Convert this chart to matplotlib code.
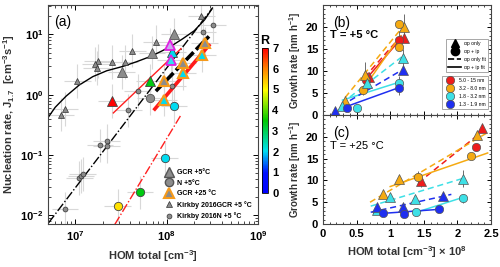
import numpy as np
import matplotlib.pyplot as plt
from matplotlib.colors import LinearSegmentedColormap
from matplotlib.lines import Line2D
import matplotlib.ticker as mticker

plt.rcParams['font.family'] = ['Liberation Sans', 'DejaVu Sans']
plt.rcParams['font.weight'] = 'bold'
plt.rcParams['axes.labelweight'] = 'bold'
plt.rcParams['mathtext.default'] = 'regular'

# ---------------- panel (a) data ----------------
# GCR +5 C, large grey triangles
gcr5_x = [1.2e8, 6.9e7, 3.2e7]
gcr5_y = [10.0, 5.0, 2.4]
# GCR +5 C, coloured by R
gcr5c_x = [2.5e7, 6.5e7, 1.15e8]
gcr5c_y = [0.78, 1.7, 5.1]
gcr5c_R = [7.0, 3.4, 2.0]
# magenta edged triangles
mag_x = [1.08e8, 1.1e8]
mag_y = [6.8, 3.8]
# N +5 C circles
n5_x = [6.6e7]
n5_y = [0.88]
n5c_x = [1.2e8, 9.5e7, 5.1e7, 2.9e7]
n5c_y = [0.65, 0.088, 0.024, 0.0145]
n5c_R = [2.0, 2.0, 3.4, 5.2]
# GCR +25 C (orange edge), fill grey or coloured by R
gcr25_x = [2.6e8, 2.45e8, 1.5e8, 1.5e8, 9.3e7, 9.3e7]
gcr25_y = [7.1, 4.6, 3.4, 2.3, 1.7, 0.83]
gcr25_R = [np.nan, 2.0, np.nan, 2.0, np.nan, 2.0]
# Kirkby 2016 GCR +5 C
kgcr_x = [2.4e8, 7.7e7, 4.2e7, 2.5e7, 3.5e7, 1.75e7, 1.65e7, 1.7e7, 1.05e7, 7.6e6, 6.9e6]
kgcr_y = [20.5, 7.6, 5.4, 3.5, 3.5, 3.6, 3.2, 2.8, 1.7, 0.58, 0.47]
# Kirkby 2016 N +5 C
kn_x = [3.2e8, 2.5e8, 1.15e8, 4.8e7, 3.8e7, 1.85e7, 2.2e7, 2.2e7, 1.1e7, 1.15e7, 1.2e7, 7.7e6]
kn_y = [14.5, 11.0, 1.4, 1.15, 0.55, 0.145, 0.17, 0.14, 0.042, 0.045, 0.048, 0.0128]

# fits
fit_curve_x = [4.9e6, 6.0e6, 7.9e6, 1.1e7, 1.55e7, 2.2e7, 3.3e7, 4.6e7, 6.6e7, 8.8e7, 1.1e8, 1.5e8, 2.0e8, 2.6e8, 3.1e8]
fit_curve_y = [0.40, 0.62, 0.95, 1.45, 2.0, 2.5, 2.95, 3.5, 4.3, 5.3, 6.3, 8.5, 11.5, 17.5, 26.0]
fit_dd_black = ([5.1e6, 3.2e8], [0.0076, 28.0])
fit_dd_red = ([2.7e7, 1.43e8], [0.0071, 0.46])
fit_thin_red = ([2.6e7, 1.43e8], [0.5, 5.8])
fit_thick_red = ([7.4e7, 2.9e8], [0.58, 6.6])
fit_thick_black = ([7.6e7, 2.9e8], [1.15, 9.3])

# ---------------- panels (b), (c) data ----------------
size_labels = ['5.0 - 15 nm', '3.2 - 8.0 nm', '1.8 - 3.2 nm', '1.3 - 1.9 nm']
size_colors = ['#ee1c1c', '#f5aa12', '#3ee0e6', '#1f2ff0']

# (x, y, err) per size class
b_tri = [[(0.69, 8.6, 0), (1.2, 17.5, 0)],
         [(0.33, 3.2, 0), (0.62, 9.0, 3.0), (1.2, 20.0, 3.0)],
         [(0.29, 2.0, 0), (0.66, 7.3, 1.5), (1.19, 13.0, 2.0)],
         [(0.18, 1.0, 0), (1.19, 10.2, 0)]]
b_cir = [[(0.64, 8.0, 1.0), (1.13, 17.1, 2.0)],
         [(0.6, 5.6, 1.0), (1.13, 20.7, 0), (1.13, 15.5, 0)],
         [(0.5, 1.7, 0), (1.13, 7.4, 1.5)],
         [(0.36, 1.6, 0), (1.13, 6.1, 1.5)]]
b_dash = [([0.62, 1.2], [8.6, 18.6]), ([0.33, 1.2], [4.0, 20.3]),
          ([0.4, 1.17], [4.1, 13.2]), ([0.4, 1.17], [3.3, 10.2])]
b_solid = [([0.62, 1.15], [7.8, 17.2]), ([0.6, 1.15], [6.0, 18.0]),
           ([0.29, 1.14], [3.4, 7.5]), ([0.36, 1.14], [2.0, 6.3])]

c_tri = [[(2.37, 22.0, 0), (1.46, 9.8, 1.2)],
         [(2.29, 20.4, 0), (1.13, 10.4, 0), (0.89, 6.8, 0)],
         [(0.99, 6.3, 0), (2.08, 10.4, 2.0), (1.37, 5.7, 0), (0.8, 3.2, 0)],
         [(1.79, 6.4, 1.0), (0.81, 3.9, 0), (1.19, 3.9, 0)]]
c_cir = [[(2.27, 17.7, 1.0)],
         [(2.2, 15.7, 0), (1.41, 10.7, 1.5)],
         [(2.08, 5.9, 1.0), (1.39, 2.7, 0)],
         [(0.9, 2.5, 0), (1.2, 2.3, 0), (1.72, 3.4, 0)]]
c_dash = [([1.42, 2.4], [9.5, 21.6]), ([0.7, 2.45], [5.0, 21.0]),
          ([0.71, 2.11], [4.1, 10.6]), ([0.71, 1.91], [2.7, 6.8])]
c_solid = [None, ([1.0, 2.45], [8.6, 16.3]),
           ([1.35, 2.1], [2.5, 6.2]), ([0.76, 1.76], [2.3, 3.4])]

cmap = LinearSegmentedColormap.from_list(
    'Rmap', [(0, '#0000ff'), (0.14, '#0010ff'), (0.29, '#00e0f0'),
             (0.5, '#00c800'), (0.71, '#ffff00'), (0.86, '#ff8000'), (1, '#ff0000')])
Rmin, Rmax = 0, 7


def Rcol(r):
    return cmap((r - Rmin) / (Rmax - Rmin))


fig = plt.figure(figsize=(5, 2.67), dpi=100)
ax = fig.add_axes([0.096, 0.161, 0.42, 0.821])

grey = '#8c8c8c'
ebc = '#d8d8d8'


def errs(x, y, fx=1.4, fy=1.9):
    x = np.array(x)
    y = np.array(y)
    return [x - x / fx, x * fx - x], [y - y / fy, y * fy - y]


for xs, ys in [(kgcr_x, kgcr_y), (kn_x, kn_y), (gcr5_x, gcr5_y), (n5_x, n5_y),
               (n5c_x, n5c_y), (gcr25_x, gcr25_y), (gcr5c_x, gcr5c_y), (mag_x, mag_y)]:
    xe, ye = errs(xs, ys)
    ax.errorbar(xs, ys, xerr=xe, yerr=ye, fmt='none', ecolor=ebc, elinewidth=0.8, zorder=1)

ax.plot(fit_curve_x, fit_curve_y, '-', color='k', lw=1.0, zorder=2)
ax.plot(*fit_dd_black, '-.', color='k', lw=1.0, zorder=2)
ax.plot(*fit_dd_red, '-.', color='#ff2020', lw=1.0, zorder=2)
ax.plot(*fit_thin_red, '-', color='#ff2020', lw=1.0, zorder=2)
ax.plot(*fit_thick_red, '-', color='#ff1a1a', lw=2.6, zorder=2)
ax.plot(*fit_thick_black, '--', color='k', lw=2.6, dashes=(3, 1), zorder=2)

ax.plot(kgcr_x, kgcr_y, '^', ms=3.8, mfc=grey, mec='#333333', mew=0.5, ls='none', zorder=3)
ax.plot(kn_x, kn_y, 'o', ms=3.5, mfc=grey, mec='#333333', mew=0.5, ls='none', zorder=3)
ax.plot(gcr5_x, gcr5_y, '^', ms=6.8, mfc=grey, mec='#555555', mew=0.6, ls='none', zorder=4)
ax.plot(n5_x, n5_y, 'o', ms=6, mfc=grey, mec='#555555', mew=0.6, ls='none', zorder=4)
for x, y, r in zip(n5c_x, n5c_y, n5c_R):
    ax.plot(x, y, 'o', ms=6, mfc=Rcol(r), mec='#444444', mew=0.6, zorder=4)
for x, y, r in zip(gcr5c_x, gcr5c_y, gcr5c_R):
    ax.plot(x, y, '^', ms=6.8, mfc=Rcol(r), mec='#444444', mew=0.6, zorder=4)
ax.plot(mag_x[0], mag_y[0], '^', ms=6.8, mfc='#c8a8f0', mec='#e020e0', mew=1.3, zorder=4)
ax.plot(mag_x[1], mag_y[1], '^', ms=6.8, mfc='#30e0f0', mec='#e020e0', mew=1.3, zorder=4)
for x, y, r in zip(gcr25_x, gcr25_y, gcr25_R):
    fc = grey if np.isnan(r) else Rcol(r)
    ax.plot(x, y, '^', ms=6.8, mfc=fc, mec='#f59a1b', mew=1.5, zorder=4)

ax.set_xscale('log')
ax.set_yscale('log')
ax.set_xlim(5e6, 1e9)
ax.set_ylim(0.0072, 31)
ax.set_xlabel('HOM total [cm$^{-3}$]', fontsize=8, color='#333333', labelpad=4)
ax.set_ylabel('Nucleation rate, J$_{1.7}$  [cm$^{-3}$s$^{-1}$]', fontsize=8, color='#333333', labelpad=2)
ax.tick_params(which='both', direction='in', top=True, right=True, labelsize=8)
ax.tick_params(which='major', length=3.5, width=0.7)
ax.tick_params(which='minor', length=2, width=0.5)
ax.text(0.03, 0.955, '(a)', transform=ax.transAxes, fontsize=10, fontweight='normal', va='top')

leg_h = [Line2D([], [], marker='^', ms=6.5, mfc=grey, mec='#555555', ls='none'),
         Line2D([], [], marker='o', ms=6, mfc=grey, mec='#555555', ls='none'),
         Line2D([], [], marker='^', ms=6.5, mfc=grey, mec='#f59a1b', mew=1.5, ls='none'),
         Line2D([], [], marker='^', ms=4, mfc=grey, mec='#333333', mew=0.5, ls='none'),
         Line2D([], [], marker='o', ms=3.5, mfc=grey, mec='#333333', mew=0.5, ls='none')]
leg_l = ['GCR +5\u00b0C', 'N +5\u00b0C', 'GCR +25 \u00b0C', 'Kirkby 2016GCR +5 \u00b0C', 'Kirkby 2016N +5 \u00b0C']
ax.legend(leg_h, leg_l, loc='lower right', bbox_to_anchor=(1.0, -0.01), frameon=False,
          prop={'size': 5, 'weight': 'bold'}, handlelength=1.2, labelspacing=0.5, handletextpad=0.6)
for sp in ax.spines.values():
    sp.set_linewidth(0.8)
    sp.set_color('#444444')

# colorbar
cax = fig.add_axes([0.524, 0.277, 0.012, 0.543])
sm = plt.cm.ScalarMappable(cmap=cmap, norm=plt.Normalize(Rmin, Rmax))
cb = fig.colorbar(sm, cax=cax, ticks=range(0, 8))
cb.ax.tick_params(labelsize=8, length=0, pad=3)
cb.outline.set_linewidth(0.6)
cax.set_title('R', fontsize=9, fontweight='bold', pad=3)


def growth_panel(axg, tri, cir, dash, solid):
    for i, col in enumerate(size_colors):
        if dash[i] is not None:
            axg.plot(*dash[i], '--', color=col, lw=1.1, dashes=(4, 2.5), zorder=2)
        if solid[i] is not None:
            axg.plot(*solid[i], '-', color=col, lw=1.1, zorder=2)
    for i, col in enumerate(size_colors):
        for x, y, e in tri[i]:
            if e:
                axg.errorbar(x, y, yerr=e, fmt='none', ecolor='#555555', elinewidth=0.6, zorder=3)
            axg.plot(x, y, '^', ms=6.5, mfc=col, mec='#555555', mew=0.5, zorder=4)
        for x, y, e in cir[i]:
            if e:
                axg.errorbar(x, y, yerr=e, fmt='none', ecolor='#555555', elinewidth=0.6, zorder=3)
            axg.plot(x, y, 'o', ms=6, mfc=col, mec='#555555', mew=0.5, zorder=4)
    axg.set_xlim(0, 2.5)
    axg.set_ylim(0, 25)
    axg.set_yticks([0, 5, 10, 15, 20])
    axg.xaxis.set_minor_locator(mticker.MultipleLocator(0.1))
    axg.yaxis.set_minor_locator(mticker.MultipleLocator(1))
    axg.tick_params(which='both', direction='in', top=True, right=True, labelsize=8)
    axg.tick_params(which='major', length=3, width=0.7)
    axg.tick_params(which='minor', length=1.5, width=0.5)
    axg.set_ylabel('Growth rate [nm h$^{-1}$]', fontsize=7, color='#333333', labelpad=2)
    for sp in axg.spines.values():
        sp.set_linewidth(0.8)
        sp.set_color('#444444')


axb = fig.add_axes([0.646, 0.569, 0.336, 0.412])
growth_panel(axb, b_tri, b_cir, b_dash, b_solid)
axb.set_xticklabels([])
axb.text(0.06, 0.9, '(b)', transform=axb.transAxes, fontsize=10, fontweight='normal', va='top')
axb.text(0.04, 0.73, 'T = +5 \u00b0C', transform=axb.transAxes, fontsize=8, fontweight='bold', va='center')

h1 = [Line2D([], [], marker='^', ms=6, color='k', ls='none'),
      Line2D([], [], marker='o', ms=6, color='k', ls='none'),
      Line2D([], [], color='k', ls='--', lw=1.2),
      Line2D([], [], color='k', ls='-', lw=1.2)]
l1 = ['\u03b1p only', '\u03b1p + ip', '\u03b1p only fit', '\u03b1p + ip fit']
lg1 = axb.legend(h1, l1, loc='upper right', bbox_to_anchor=(0.995, 0.715), fancybox=False,
                 edgecolor='#999999', framealpha=1, prop={'size': 3.6, 'weight': 'normal'},
                 handlelength=2.6, labelspacing=0.6, borderpad=0.45, handletextpad=0.5)
lg1.get_frame().set_linewidth(0.6)
axb.add_artist(lg1)
h2 = [Line2D([], [], marker='o', ms=6, mfc=c, mec='#555555', mew=0.5, ls='none') for c in size_colors]
lg2 = axb.legend(h2, size_labels, loc='lower right', bbox_to_anchor=(0.995, 0.035), fancybox=False,
                 edgecolor='#999999', framealpha=1, prop={'size': 3.6, 'weight': 'normal'},
                 handlelength=2.6, labelspacing=0.6, borderpad=0.4, handletextpad=0.5)
lg2.get_frame().set_linewidth(0.6)

axc = fig.add_axes([0.646, 0.161, 0.336, 0.408])
growth_panel(axc, c_tri, c_cir, c_dash, c_solid)
axc.set_xticks([0, 0.5, 1, 1.5, 2, 2.5])
axc.set_xticklabels(['0', '0.5', '1', '1.5', '2', '2.5'])
axc.set_xlabel('HOM total [cm$^{-3}$] \u00d7 10$^{8}$', fontsize=8, color='#333333', labelpad=4)
axc.text(0.06, 0.9, '(c)', transform=axc.transAxes, fontsize=10, fontweight='normal', va='top')
axc.text(0.04, 0.72, 'T = +25 \u00b0C', transform=axc.transAxes, fontsize=8, fontweight='normal', va='center')

fig.savefig('out.png', dpi=100)
